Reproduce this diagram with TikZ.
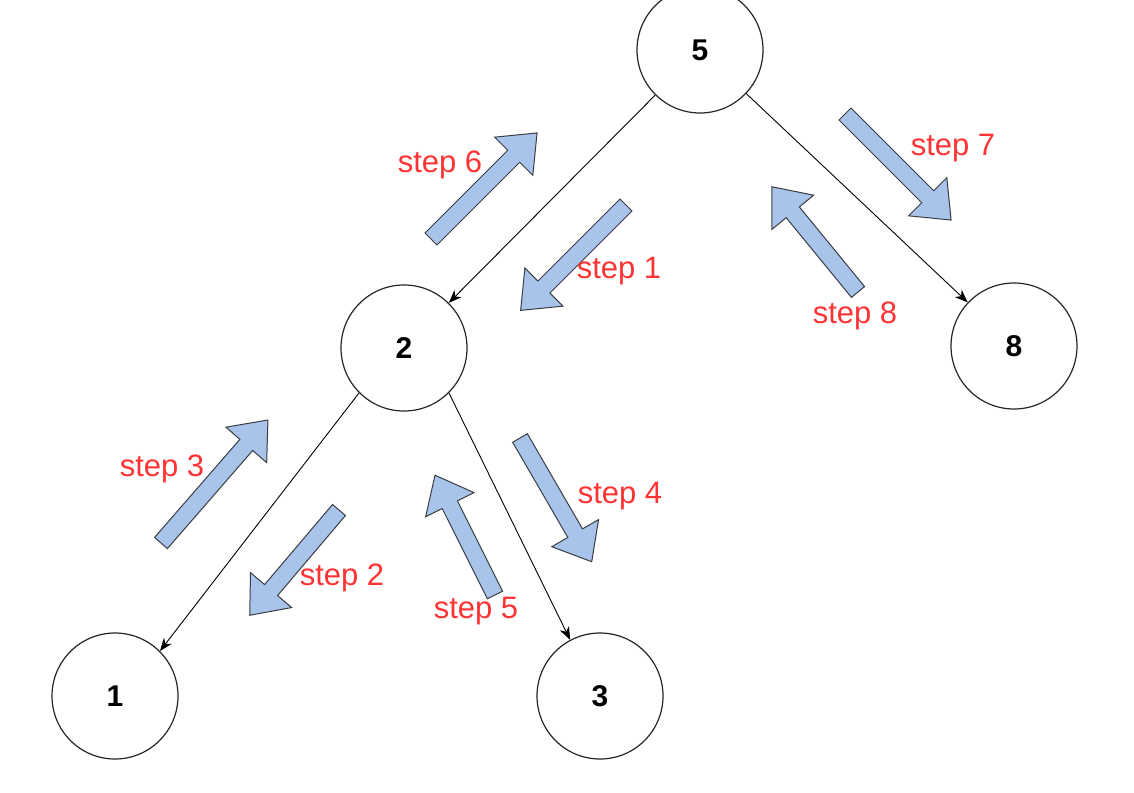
\documentclass[tikz,border=0pt]{standalone}
\usepackage{fontspec}
\setmainfont{Liberation Sans}
\usetikzlibrary{arrows.meta}
\definecolor{arrowfill}{HTML}{A9C4EB}
\definecolor{arrowline}{HTML}{3A3D42}
\definecolor{steptext}{HTML}{FF3333}
\tikzset{
  treenode/.style={circle, draw=black!85, line width=1.2pt, minimum size=126pt,
    inner sep=0pt, font=\fontsize{30}{36}\selectfont\bfseries},
  treeedge/.style={draw=black, line width=0.9pt,
    -{Stealth[length=13pt, width=10pt, inset=4pt]}},
  steplabel/.style={text=steptext, anchor=base, inner sep=0pt,
    font=\fontsize{31}{37}\selectfont},
  pics/blockarrow/.style={code={
    \draw[fill=arrowfill, draw=arrowline, line width=1pt, line join=miter]
      (0,-8.5) -- ({#1-33},-8.5) -- ({#1-33},-27) -- (#1,0)
      -- ({#1-33},27) -- ({#1-33},8.5) -- (0,8.5) -- cycle;
  }}
}
\begin{document}
\begin{tikzpicture}[x=1pt, y=-1pt]
  \useasboundingbox[fill=white] (0,0) rectangle (1134,792);

  % tree nodes
  \node[treenode] (n5) at (700,50)  {5};
  \node[treenode] (n2) at (404,348) {2};
  \node[treenode] (n8) at (1014,346) {8};
  \node[treenode] (n1) at (115,696) {1};
  \node[treenode] (n3) at (600,696) {3};

  % tree edges
  \draw[treeedge] (n5) -- (n2);
  \draw[treeedge] (n5) -- (n8);
  \draw[treeedge] (n2.225) -- (n1.45);
  \draw[treeedge] (n2.-45) -- (n3.118);

  % traversal arrows
  \pic[rotate=45]    at (431,239) {blockarrow=150};
  \pic[rotate=225]   at (626,205) {blockarrow=149};
  \pic[rotate=-45]   at (845,114) {blockarrow=150};
  \pic[rotate=129.3] at (858,292) {blockarrow=136};
  \pic[rotate=49]    at (161,543) {blockarrow=163};
  \pic[rotate=229.7] at (339,510) {blockarrow=138};
  \pic[rotate=116.6] at (495,595) {blockarrow=134};
  \pic[rotate=-59.9] at (520,438) {blockarrow=143};

  % step labels
  \node[steplabel] (s1) at (619,278) {step 1};
  \node[steplabel] (s2) at (342,585) {step 2};
  \node[steplabel] (s3) at (162,476) {step 3};
  \node[steplabel] (s4) at (620,503) {step 4};
  \node[steplabel] (s5) at (476,618) {step 5};
  \node[steplabel] (s6) at (440,172) {step 6};
  \node[steplabel] (s7) at (953,155) {step 7};
  \node[steplabel] (s8) at (855,323) {step 8};
\end{tikzpicture}
\end{document}
